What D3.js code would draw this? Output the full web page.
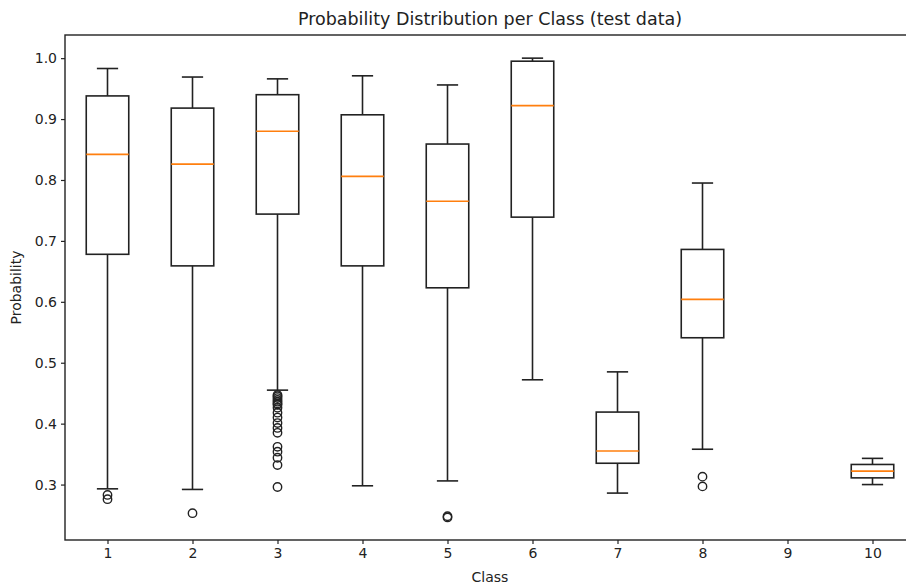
<!DOCTYPE html>
<html>
<head>
<meta charset="utf-8">
<script src="https://cdn.jsdelivr.net/npm/d3@7/dist/d3.min.js"></script>
<style>
  html, body { margin: 0; padding: 0; background: #fff; }
  svg { display: block; font-family: "DejaVu Sans", sans-serif; }
</style>
</head>
<body>
<svg id="chart" width="906" height="587"></svg>
<script>
const classes = [1, 2, 3, 4, 5, 6, 7, 8, 9, 10];
const whiskerLow  = [0.293, 0.292, 0.455, 0.298, 0.306, 0.472, 0.286, 0.358, null, 0.300];
const q1          = [0.678, 0.659, 0.744, 0.659, 0.623, 0.739, 0.335, 0.541, null, 0.311];
const median      = [0.842, 0.826, 0.880, 0.806, 0.765, 0.922, 0.355, 0.604, null, 0.322];
const q3          = [0.938, 0.918, 0.940, 0.907, 0.859, 0.995, 0.419, 0.686, null, 0.333];
const whiskerHigh = [0.983, 0.969, 0.966, 0.971, 0.956, 1.000, 0.485, 0.795, null, 0.343];
const outliers    = [
  [0.283, 0.276],
  [0.253],
  [0.447, 0.445, 0.442, 0.439, 0.436, 0.433, 0.431, 0.426, 0.418, 0.410, 0.401, 0.393, 0.385, 0.362, 0.354, 0.344, 0.332, 0.296],
  [],
  [0.248, 0.246],
  [],
  [],
  [0.313, 0.297],
  [],
  []
];
const yTicks = [0.3, 0.4, 0.5, 0.6, 0.7, 0.8, 0.9, 1.0];
const titleText = "Probability Distribution per Class (test data)";
const xLabel = "Class";
const yLabel = "Probability";

(function () {
const svg = d3.select("#chart");
const mLeft = 65, mRight = 915, mTop = 35, mBottom = 540;

const x = d3.scaleLinear().domain([0.5, 10.5]).range([mLeft, mRight]);
const y = d3.scaleLinear().domain([0.209, 1.038]).range([mBottom, mTop]);
const boxW = x(1.25) - x(1);   // half-width of box (width 0.5)
const capW = boxW / 2;

const stroke = "#222";

// axes
const gx = svg.append("g").attr("transform", `translate(0,${mBottom})`)
  .call(d3.axisBottom(x).tickValues(classes).tickFormat(d3.format("d")).tickSize(4).tickPadding(4));
const gy = svg.append("g").attr("transform", `translate(${mLeft},0)`)
  .call(d3.axisLeft(y).tickValues(yTicks).tickFormat(d3.format(".1f")).tickSize(4).tickPadding(4));
[gx, gy].forEach(g => {
  g.select(".domain").remove();
  g.selectAll(".tick line").attr("stroke", stroke).attr("stroke-width", 1.2);
  g.selectAll(".tick text").attr("fill", "#222").style("font-size", "14px").style("font-family", "DejaVu Sans, sans-serif");
});

// frame
svg.append("rect").attr("x", mLeft).attr("y", mTop).attr("width", mRight - mLeft).attr("height", mBottom - mTop)
  .attr("fill", "none").attr("stroke", stroke).attr("stroke-width", 1.4);

// boxes
const data = classes.map((c, i) => ({
  c, lo: whiskerLow[i], q1: q1[i], med: median[i], q3: q3[i], hi: whiskerHigh[i], out: outliers[i]
})).filter(d => d.med !== null);

const g = svg.append("g");
data.forEach(d => {
  const cx = x(d.c);
  const bg = g.append("g");
  bg.append("line").attr("x1", cx).attr("x2", cx).attr("y1", y(d.q3)).attr("y2", y(d.hi))
    .attr("stroke", stroke).attr("stroke-width", 1.6);
  bg.append("line").attr("x1", cx).attr("x2", cx).attr("y1", y(d.q1)).attr("y2", y(d.lo))
    .attr("stroke", stroke).attr("stroke-width", 1.6);
  [d.lo, d.hi].forEach(v => {
    bg.append("line").attr("x1", cx - capW).attr("x2", cx + capW).attr("y1", y(v)).attr("y2", y(v))
      .attr("stroke", stroke).attr("stroke-width", 1.6);
  });
  bg.append("rect").attr("x", cx - boxW).attr("width", 2 * boxW)
    .attr("y", y(d.q3)).attr("height", y(d.q1) - y(d.q3))
    .attr("fill", "none").attr("stroke", stroke).attr("stroke-width", 1.6);
  bg.append("line").attr("x1", cx - boxW).attr("x2", cx + boxW).attr("y1", y(d.med)).attr("y2", y(d.med))
    .attr("stroke", "#ff7f0e").attr("stroke-width", 1.6);
  d.out.forEach(v => {
    bg.append("circle").attr("cx", cx).attr("cy", y(v)).attr("r", 4.2)
      .attr("fill", "none").attr("stroke", stroke).attr("stroke-width", 1.4);
  });
});

// title & labels
svg.append("text").attr("x", (mLeft + mRight) / 2).attr("y", 25).attr("text-anchor", "middle")
  .style("font-size", "17.5px").attr("fill", "#222").text(titleText);
svg.append("text").attr("x", (mLeft + mRight) / 2).attr("y", 582).attr("text-anchor", "middle")
  .style("font-size", "14px").attr("fill", "#222").text(xLabel);
svg.append("text").attr("transform", `translate(21,${(mTop + mBottom) / 2}) rotate(-90)`).attr("text-anchor", "middle")
  .style("font-size", "14px").attr("fill", "#222").text(yLabel);
})();
</script>
</body>
</html>
